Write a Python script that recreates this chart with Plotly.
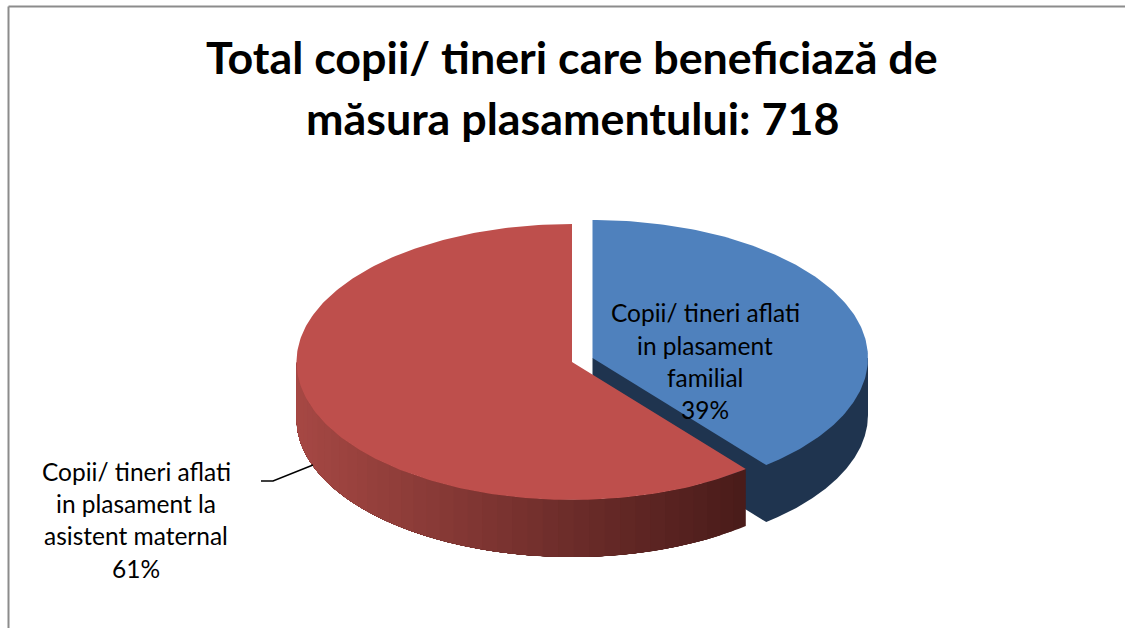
import math
import plotly.graph_objects as go

title_lines = ["Total copii/ tineri care beneficiază de", "măsura plasamentului: 718"]
categories = ["Copii/ tineri aflati in plasament familial", "Copii/ tineri aflati in plasament la asistent maternal"]
counts = [281, 437]
label_lines = [
    ["Copii/ tineri aflati", "in plasament", "familial", "39%"],
    ["Copii/ tineri aflati", "in plasament la", "asistent maternal", "61%"],
]
top_colors = ["#4F81BD", "#BE4F4C"]
BLUE_WALL = "#1F344F"
FONT = "Lato"

RX, RY, DEPTH = 275.5, 138, 57
centers = [(592.5, 358), (572, 362)]
sweep = [counts[0] / sum(counts) * 360]


def rim(c, a):
    t = math.radians(a)
    return c[0] + RX * math.sin(t), c[1] - RY * math.cos(t)


def arc(c, a0, a1, n=160):
    pts = [rim(c, a0 + (a1 - a0) * i / n) for i in range(n + 1)]
    return [p[0] for p in pts], [p[1] for p in pts]


def poly(xs, ys, color, name):
    return go.Scatter(x=xs, y=ys, mode="lines", fill="toself", fillcolor=color,
                      line=dict(color=color, width=0),
                      hoverinfo="skip", name=name, showlegend=False)


fig = go.Figure()
split = sweep[0]
cb, cr = centers

# blue slice: walls as one shape, then top
ax, ay = arc(cb, 90, split)
fig.add_trace(poly([cb[0]] + [ax[0]] + ax + [cb[0]],
                   [cb[1]] + [ay[0]] + [v + DEPTH for v in ay] + [cb[1] + DEPTH],
                   BLUE_WALL, "blue wall"))
ax, ay = arc(cb, 0, split)
fig.add_trace(poly([cb[0]] + ax, [cb[1]] + ay, top_colors[0], categories[0]))

# red slice: outer wall shaded left to right, painted from the dark end over
left_rgb, right_rgb = (166, 72, 68), (74, 28, 26)
steps = 40
for i in range(steps):
    a0 = split + (270 - split) * i / steps
    ax, ay = arc(cr, a0, 270, n=80)
    u = (rim(cr, a0)[0] - (cr[0] - RX)) / (rim(cr, split)[0] - (cr[0] - RX))
    rgb = [round(l + (r - l) * u) for l, r in zip(left_rgb, right_rgb)]
    fig.add_trace(poly(ax + ax[::-1], ay + [v + DEPTH for v in ay[::-1]],
                       f"rgb({rgb[0]},{rgb[1]},{rgb[2]})", "red wall"))
ax, ay = arc(cr, split, 360, n=220)
fig.add_trace(poly([cr[0]] + ax, [cr[1]] + ay, top_colors[1], categories[1]))

# chart frame (top and left edges only)
fig.add_shape(type="line", x0=8.5, x1=1125, y0=6.5, y1=6.5, line=dict(color="#8C8C8C", width=2))
fig.add_shape(type="line", x0=8.5, x1=8.5, y0=6.5, y1=628, line=dict(color="#8C8C8C", width=2))

# leader line
fig.add_trace(go.Scatter(x=[261, 273, 313], y=[481, 481, 465], mode="lines",
                         line=dict(color="black", width=1.4), hoverinfo="skip", showlegend=False))


def text(x, y, s, size, bold=False):
    fig.add_annotation(x=x, y=y, text=f"<b>{s}</b>" if bold else s, showarrow=False,
                       xanchor="center", yanchor="middle",
                       font=dict(family=FONT, size=size, color="black"))


for y, s in zip([57, 118], title_lines):
    text(572, y, s, 44.8, bold=True)
for y, s in zip([312, 345, 377, 409], label_lines[0]):
    text(705, y, s, 24.5)
for y, s in zip([471, 503, 535, 568], label_lines[1]):
    text(136, y, s, 24.5)

fig.update_layout(width=1125, height=628, margin=dict(l=0, r=0, t=0, b=0),
                  paper_bgcolor="white", plot_bgcolor="white", showlegend=False,
                  xaxis=dict(range=[0, 1125], visible=False, fixedrange=True),
                  yaxis=dict(range=[628, 0], visible=False, fixedrange=True))
fig.write_html("out.html", config={"displayModeBar": False},
               post_script="document.body.style.margin='0';")
